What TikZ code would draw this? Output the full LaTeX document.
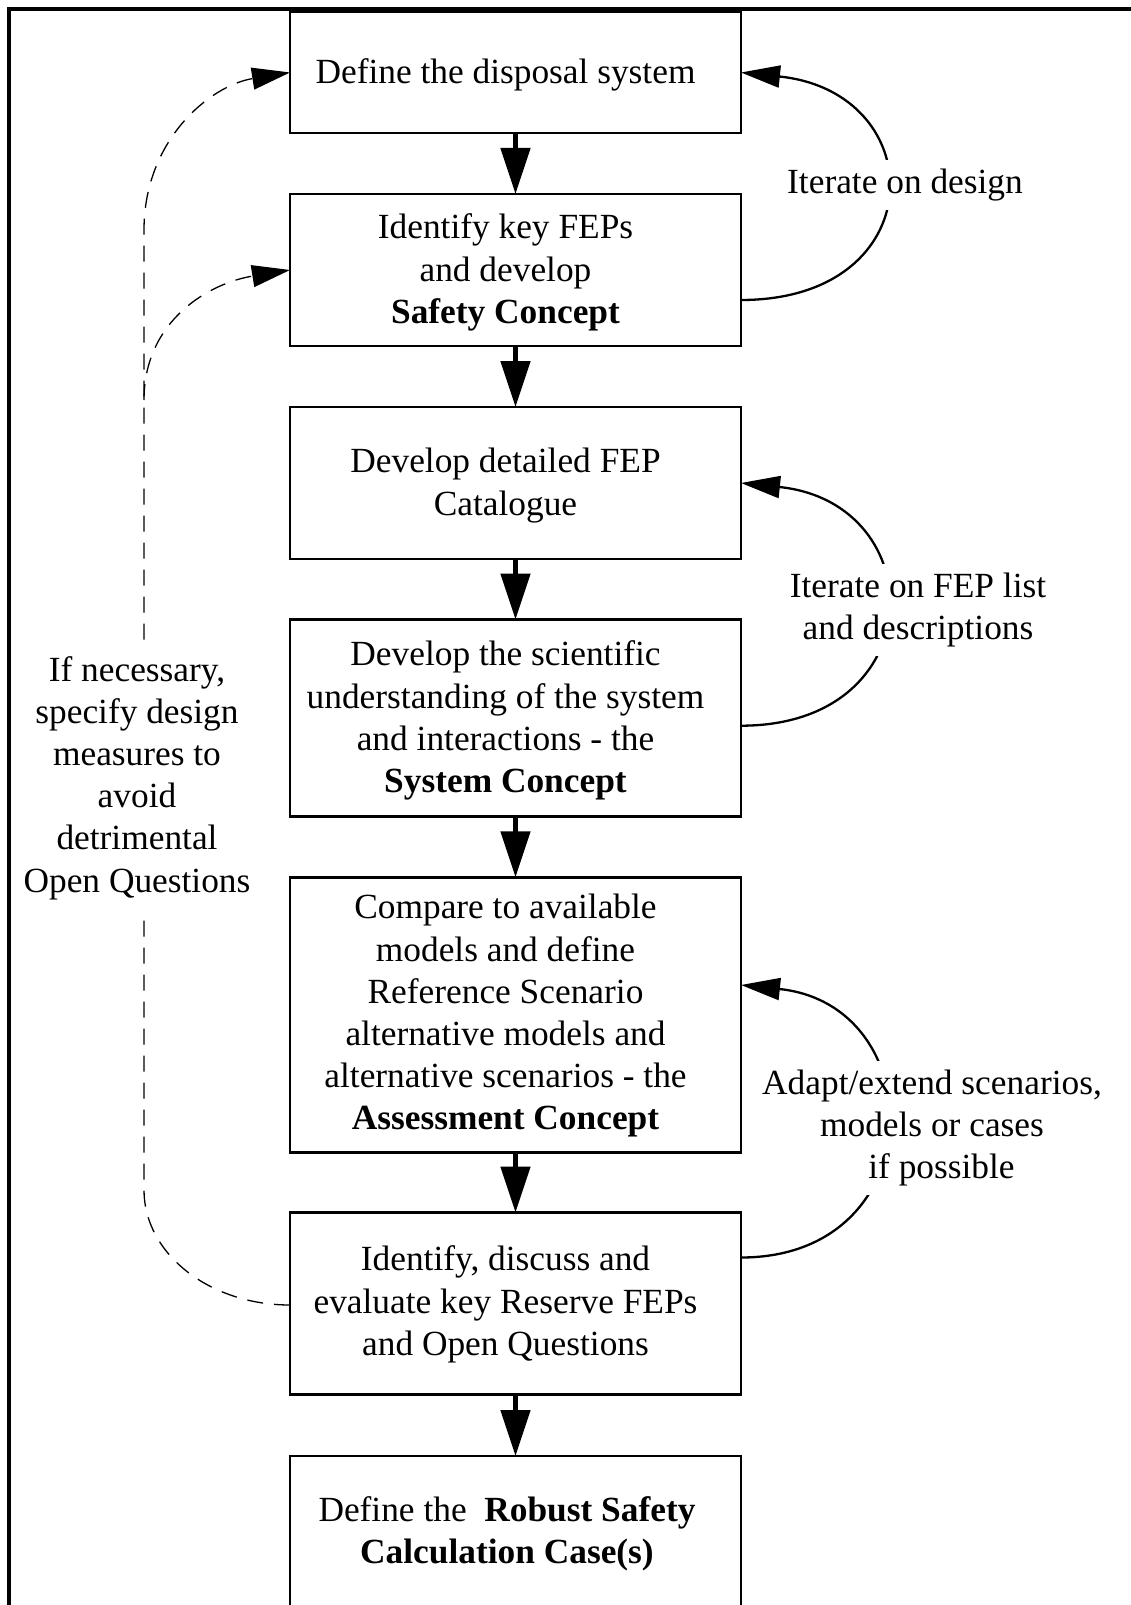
\documentclass[tikz,border=0pt]{standalone}
\usepackage{fontspec}
\setmainfont{Liberation Serif}
\usetikzlibrary{arrows.meta}
\begin{document}
\begin{tikzpicture}[x=1pt,y=-1pt,
  box/.style={draw, line width=2.7pt, minimum width=451pt, inner sep=0pt, outer sep=0pt},
  txt/.style={align=center, font=\fontsize{35.35pt}{42.2pt}\selectfont, inner sep=0pt},
  lbl/.style={align=center, font=\fontsize{35.35pt}{42.2pt}\selectfont, fill=white, inner xsep=4pt, inner ysep=9pt},
  flow/.style={line width=5pt, -{Triangle[length=46pt,width=29pt]}},
  loopback/.style={line width=2.3pt, -{Triangle[length=39pt,width=22pt]}},
  dashloop/.style={line width=1.3pt, dash pattern=on 16pt off 11pt, -{Triangle[length=38pt,width=22pt]}},
]
\useasboundingbox (0,0) rectangle (1131,1605);
\clip (0,0) rectangle (1131,1605);

% boxes
\node[box, minimum height=121pt] (b1) at (515.5,72.5) {};
\node[box, minimum height=152pt] (b2) at (515.5,270) {};
\node[box, minimum height=152pt] (b3) at (515.5,483) {};
\node[box, minimum height=197pt] (b4) at (515.5,718) {};
\node[box, minimum height=275pt] (b5) at (515.5,1014.8) {};
\node[box, minimum height=182pt] (b6) at (515.5,1303.5) {};
\node[box, minimum height=159pt] (b7) at (515.5,1535.5) {};

% box texts
\node[txt] (t1) at ([xshift=-10pt,yshift=-2.5pt]b1.center) {Define the disposal system};
\node[txt] (t2) at ([xshift=-10pt,yshift=-2.5pt]b2.center) {Identify key FEPs\\and develop\\\textbf{Safety Concept}};
\node[txt] (t3) at ([xshift=-10pt,yshift=-2.5pt]b3.center) {Develop detailed FEP\\Catalogue};
\node[txt] (t4) at ([xshift=-10pt,yshift=-2.5pt]b4.center) {Develop the scientific\\understanding of the system\\and interactions - the\\\textbf{System Concept}};
\node[txt] (t5) at ([xshift=-10pt,yshift=-1pt]b5.center) {Compare to available\\models and define\\Reference Scenario\\alternative models and\\alternative scenarios - the\\\textbf{Assessment Concept}};
\node[txt] (t6) at ([xshift=-10pt,yshift=-1pt]b6.center) {Identify, discuss and\\evaluate key Reserve FEPs\\and Open Questions};
\node[txt] (t7) at ([xshift=-8.5pt,yshift=1.5pt]b7.center) {Define the\ \ \textbf{Robust Safety}\\\textbf{Calculation Case(s)}};

% main flow arrows
\draw[flow] (b1) -- (b2);
\draw[flow] (b2) -- (b3);
\draw[flow] (b3) -- (b4);
\draw[flow] (b4) -- (b5);
\draw[flow] (b5) -- (b6);
\draw[flow] (b6) -- (b7);

% right feedback loops
\draw[loopback] ([yshift=-30pt]b2.east) .. controls +(192,0) and +(192,20) .. (b1.east);
\draw[loopback] ([yshift=-7.7pt]b4.east) .. controls +(192,0) and +(192,20) .. (b3.east);
\draw[loopback] ([yshift=46pt]b6.east) .. controls +(192,0) and +(192,20) .. ([yshift=29.8pt]b5.east);

\node[lbl] (l1) at (905,185) {Iterate on design};
\node[lbl] (l2) at (918,610) {Iterate on FEP list\\and descriptions};
\node[lbl] (l3) at (932,1128) {Adapt/extend scenarios,\\models or cases\\\hspace*{19pt}if possible};

% left dashed loop
\coordinate (dl) at (144,1190);
\coordinate (br) at (144,400);
\coordinate (ul) at (144,230);
\draw[dashloop] ([yshift=-1.5pt]b6.west) .. controls +(-80.6,0) and +(0,63.5) .. (dl) -- (br) -- (ul) .. controls +(0,-90) and +(-80,13) .. (b1.west);
\draw[dashloop] (br) .. controls +(0,-80) and +(-80,13) .. (b2.west);

\node[lbl, inner ysep=10pt] (l4) at (137,778) {If necessary,\\specify design\\measures to\\avoid\\detrimental\\Open Questions};

% outer frame (only top and left visible)
\draw[line width=4.5pt] (9,1620) -- (9,9) -- (1140,9);
\end{tikzpicture}
\end{document}
